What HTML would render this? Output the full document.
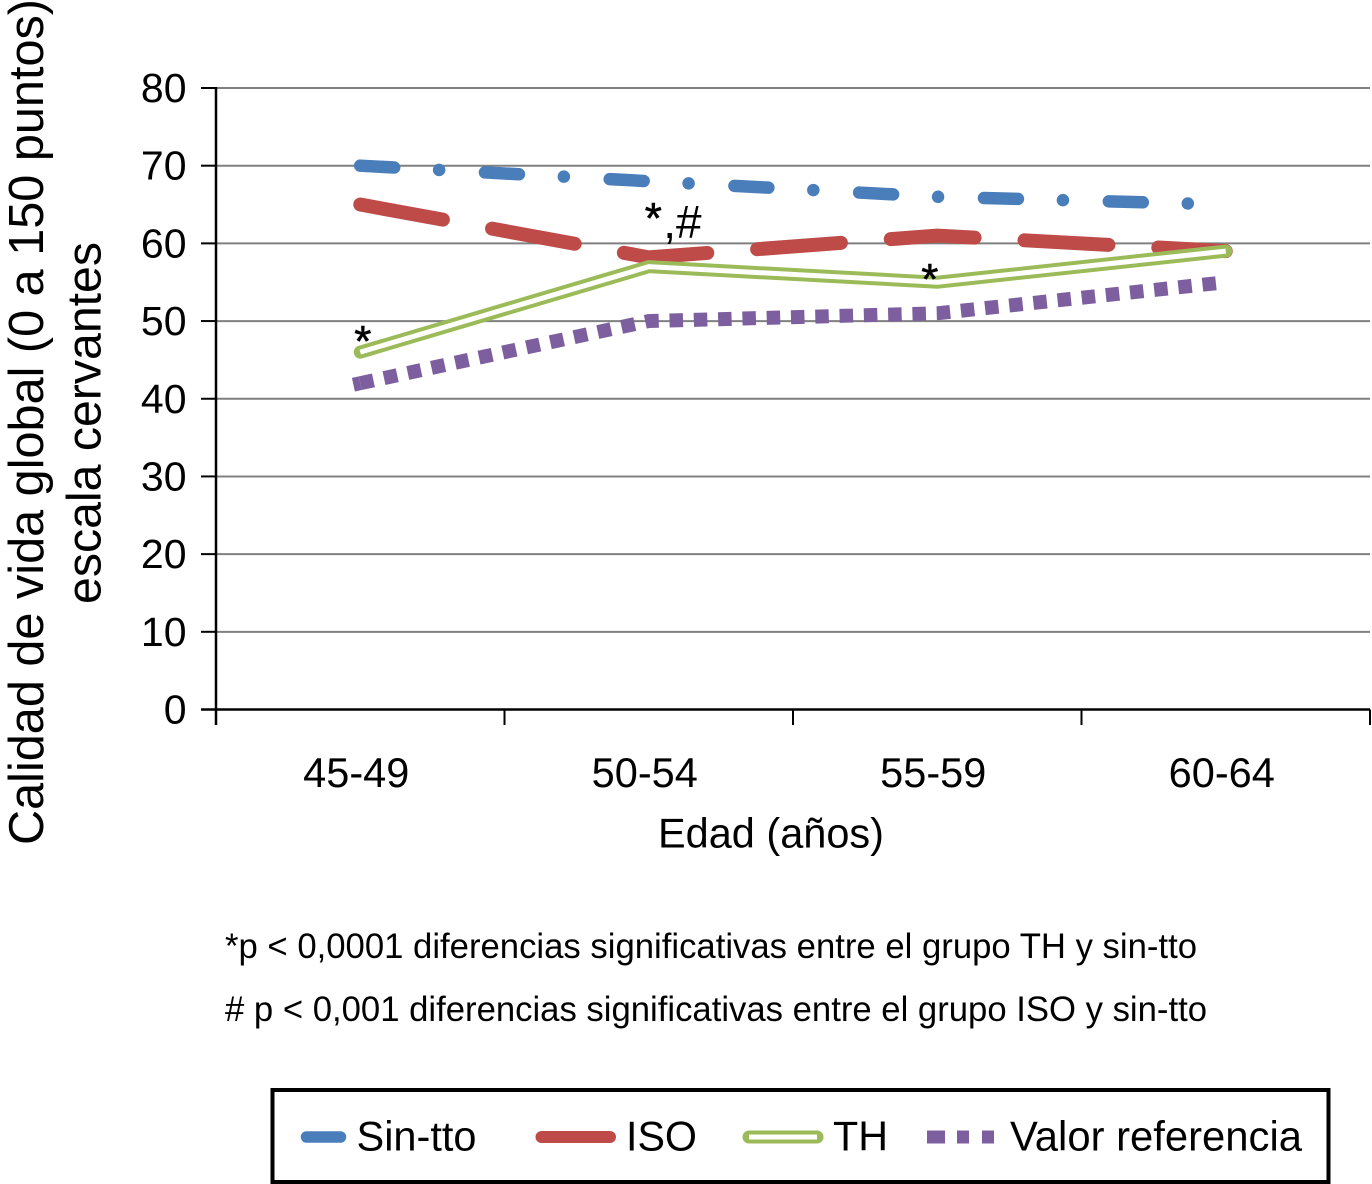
<!DOCTYPE html>
<html lang="es">
<head>
<meta charset="utf-8">
<title>Calidad de vida global por edad</title>
<style>
html,body{margin:0;padding:0;background:#fff;width:1372px;height:1184px;overflow:hidden}
svg{display:block}
text{font-family:"Liberation Sans",Arial,sans-serif;fill:#000}
</style>
</head>
<body>
<svg id="chart" xmlns="http://www.w3.org/2000/svg" width="1372" height="1184" viewBox="0 0 1372 1184">
  <rect x="0" y="0" width="1372" height="1184" fill="#fff"/>
  <g id="grid"></g>
  <g id="axes"></g>
  <g id="series"></g>
  <g id="annotations"></g>
  <text transform="translate(43,845) rotate(-90)" font-size="49" textLength="846" lengthAdjust="spacingAndGlyphs">Calidad de vida global (0 a 150 puntos)</text>
  <text transform="translate(100.5,604) rotate(-90)" font-size="48" textLength="362" lengthAdjust="spacingAndGlyphs">escala cervantes</text>
  <text x="658" y="847.5" font-size="41.5" textLength="226" lengthAdjust="spacingAndGlyphs">Edad (años)</text>
  <text x="225" y="958" font-size="35" textLength="972" lengthAdjust="spacingAndGlyphs">*p &lt; 0,0001 diferencias significativas entre el grupo TH y sin-tto</text>
  <text x="225" y="1021" font-size="35" textLength="982" lengthAdjust="spacingAndGlyphs"># p &lt; 0,001 diferencias significativas entre el grupo ISO y sin-tto</text>
  <g>
    <rect x="272.5" y="1090" width="1056" height="92" fill="#fff" stroke="#000" stroke-width="4"/>
    <line x1="306.5" y1="1137" x2="340.5" y2="1137" stroke="#4a7ebb" stroke-width="11.5" stroke-linecap="round"/>
    <text x="356.5" y="1150.7" font-size="41.5" textLength="120" lengthAdjust="spacingAndGlyphs">Sin-tto</text>
    <line x1="541.5" y1="1137" x2="610" y2="1137" stroke="#be4b48" stroke-width="12" stroke-linecap="round"/>
    <text x="626" y="1150.7" font-size="41.5" textLength="71" lengthAdjust="spacingAndGlyphs">ISO</text>
    <line x1="749" y1="1137" x2="817" y2="1137" stroke="#9bbb59" stroke-width="13" stroke-linecap="round"/>
    <line x1="749" y1="1137" x2="817" y2="1137" stroke="#fff" stroke-width="5"/>
    <text x="833" y="1150.7" font-size="41.5" textLength="55" lengthAdjust="spacingAndGlyphs">TH</text>
    <line x1="927" y1="1137" x2="994" y2="1137" stroke="#7d5fa0" stroke-width="13" stroke-dasharray="18 12 12 13 12"/>
    <text x="1010" y="1150.7" font-size="41.5" textLength="292" lengthAdjust="spacingAndGlyphs">Valor referencia</text>
  </g>
</svg>
<script>
const categories = ["45-49", "50-54", "55-59", "60-64"];
const yTickLabels = [0, 10, 20, 30, 40, 50, 60, 70, 80];
const sinTto = [70, 68, 66, 65];
const iso = [65, 58.2, 61, 59];
const th = [46, 57, 55, 59];
const valorReferencia = [42, 50, 51, 55];

const NS = "http://www.w3.org/2000/svg";
const plotLeft = 216, plotRight = 1370, plotTop = 88, plotBottom = 709.5, yMax = 80;
const band = (plotRight - plotLeft) / categories.length;
const xScale = i => plotLeft + band * (i + 0.5);
const yScale = v => plotBottom - (v / yMax) * (plotBottom - plotTop);
const pointsOf = vals => vals.map((v, i) => xScale(i) + "," + yScale(v)).join(" ");

function make(tag, attrs, parent) {
  const el = document.createElementNS(NS, tag);
  for (const k in attrs) el.setAttribute(k, attrs[k]);
  parent.appendChild(el);
  return el;
}
const gridG = document.getElementById("grid");
const axesG = document.getElementById("axes");
const seriesG = document.getElementById("series");
const annG = document.getElementById("annotations");

yTickLabels.forEach(v => {
  const y = yScale(v);
  if (v > 0) {
    const g = make("line", {x1: plotLeft, x2: plotRight, y1: y, y2: y, stroke: "#808080", "stroke-width": 2}, gridG);
    
    
  }
  const t = make("line", {x1: 201, x2: plotLeft, y1: y, y2: y, stroke: "#000", "stroke-width": 2}, axesG);
  
  
  const lab = make("text", {x: 186.5, y: y + 14, "text-anchor": "end", "font-size": 41}, axesG);
  lab.textContent = v;
  
  
});

const yAxis = make("line", {x1: plotLeft, x2: plotLeft, y1: plotTop - 1, y2: 725, stroke: "#000", "stroke-width": 2.5}, axesG);


const xAxis = make("line", {x1: 201, x2: plotRight, y1: plotBottom, y2: plotBottom, stroke: "#000", "stroke-width": 2.5}, axesG);



for (let i = 1; i <= categories.length; i++) {
  const x = plotLeft + band * i;
  const t = make("line", {x1: x, x2: x, y1: plotBottom, y2: 725, stroke: "#000", "stroke-width": 2}, axesG);
  
  
}
categories.forEach((c, i) => {
  const lab = make("text", {x: xScale(i) - 4, y: 787, "text-anchor": "middle", "font-size": 41.5}, axesG);
  lab.textContent = c;
  
  
});

const blue = make("polyline", {points: pointsOf(sinTto), fill: "none", stroke: "#4a7ebb", "stroke-width": 12.5, "stroke-linecap": "round", "stroke-linejoin": "round", "stroke-dasharray": "34 45 0.01 45.9"}, seriesG);



const red = make("polyline", {points: pointsOf(iso), fill: "none", stroke: "#be4b48", "stroke-width": 14, "stroke-linecap": "round", "stroke-linejoin": "round", "stroke-dasharray": "84 50"}, seriesG);



const greenOuter = make("polyline", {points: pointsOf(th), fill: "none", stroke: "#9bbb59", "stroke-width": 13, "stroke-linecap": "round", "stroke-linejoin": "miter"}, seriesG);


const greenInner = make("polyline", {points: pointsOf(th), fill: "none", stroke: "#fff", "stroke-width": 5, "stroke-linejoin": "miter"}, seriesG);



const purple = make("polyline", {points: pointsOf(valorReferencia), fill: "none", stroke: "#7d5fa0", "stroke-width": 14, "stroke-dasharray": "13.5 10.8"}, seriesG);



const dx = xScale(1) - xScale(0);
const dy = yScale(valorReferencia[1]) - yScale(valorReferencia[0]);
const len = Math.hypot(dx, dy);
const purpleCap = make("line", {
  x1: xScale(0), y1: yScale(valorReferencia[0]),
  x2: xScale(0) - 7 * dx / len, y2: yScale(valorReferencia[0]) - 7 * dy / len,
  stroke: "#7d5fa0", "stroke-width": 14
}, seriesG);



const m1 = make("text", {x: xScale(0) - 6, y: yScale(th[0]) + 4, "font-size": 44, stroke: "#000", "stroke-width": 0.6}, annG);
m1.textContent = "*";


const m2a = make("text", {x: xScale(1) - 4, y: 233, "font-size": 44, stroke: "#000", "stroke-width": 0.6}, annG);
m2a.textContent = "*";


const m2b = make("text", {x: xScale(1) + 14.5, y: 238, "font-size": 46}, annG);
m2b.textContent = ",#";


const m3 = make("text", {x: xScale(2) - 16, y: yScale(th[2]) + 12, "font-size": 44, stroke: "#000", "stroke-width": 0.6}, annG);
m3.textContent = "*";


</script>
</body>
</html>
